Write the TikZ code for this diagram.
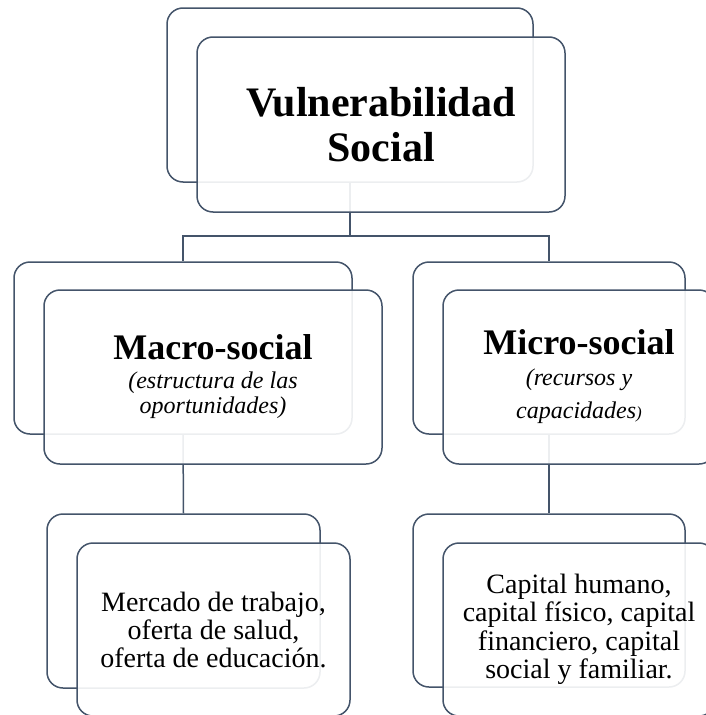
\documentclass[tikz,border=0pt]{standalone}
\usepackage{fontspec}
\setmainfont{Liberation Serif}
\usepackage{tikz}
\usetikzlibrary{positioning}
\definecolor{edge}{HTML}{44546A}

\begin{document}
\begin{tikzpicture}[
    x=1pt, y=-1pt,
    backbox/.style={draw=edge, line width=1.5pt, rounded corners=16pt,
                    fill=white, inner sep=0pt},
    frontbox/.style={draw=edge, line width=1.5pt, rounded corners=16pt,
                     fill=white, fill opacity=0.9, text opacity=1,
                     align=center, inner sep=0pt},
    link/.style={draw=edge, line width=1.5pt}
  ]
    \useasboundingbox (0,0) rectangle (706,715);
    \clip (0,0) rectangle (706,715);

    % Back boxes
    \node[backbox, minimum width=366pt, minimum height=174pt] (vulBack) at (350,95) {};
    \node[backbox, minimum width=338pt, minimum height=172pt] (macroBack) at (183,348) {};
    \node[backbox, minimum width=272pt, minimum height=172pt] (microBack) at (549,348) {};
    \node[backbox, minimum width=273pt, minimum height=174pt] (mercadoBack) at (183.5,601) {};
    \node[backbox, minimum width=272pt, minimum height=173pt] (capitalBack) at (549,600.5) {};

    % Connectors
    \coordinate (fork) at (350,236);
    \draw[link] (vulBack.south) -- (fork) -| (macroBack.north);
    \draw[link] (fork) -| (microBack.north);
    \draw[link] (macroBack.south) -- (mercadoBack.north);
    \draw[link] (microBack.south) -- (capitalBack.north);

    % Front boxes
    \node[frontbox, minimum width=368pt, minimum height=175pt,
          font=\fontsize{42}{45}\selectfont\bfseries] (vul) at (381,124.5)
      {Vulnerabilidad\\Social};
    \node[frontbox, minimum width=338pt, minimum height=174pt,
          font=\fontsize{24}{25}\selectfont\itshape] (macro) at (213,377)
      {{\fontsize{36}{36}\selectfont\bfseries\upshape Macro-social}\\[4pt]
       (estructura de las\\oportunidades)};
    \node[frontbox, minimum width=272pt, minimum height=174pt,
          font=\fontsize{24}{33}\selectfont\itshape] (micro) at (579,377)
      {{\fontsize{36}{36}\selectfont\bfseries\upshape Micro-social}\\[-2pt]
       (recursos y\\capacidades{\fontsize{17}{17}\selectfont)}};
    \node[frontbox, minimum width=273pt, minimum height=173pt,
          font=\fontsize{28}{28}\selectfont] (mercado) at (213.5,629.5)
      {Mercado de trabajo,\\oferta de salud,\\oferta de educación.};
    \node[frontbox, minimum width=272pt, minimum height=173pt,
          font=\fontsize{28}{28.5}\selectfont] (capital) at (579,629.5)
      {Capital humano,\\capital físico, capital\\financiero, capital\\social y familiar.};
  \end{tikzpicture}
\end{document}
